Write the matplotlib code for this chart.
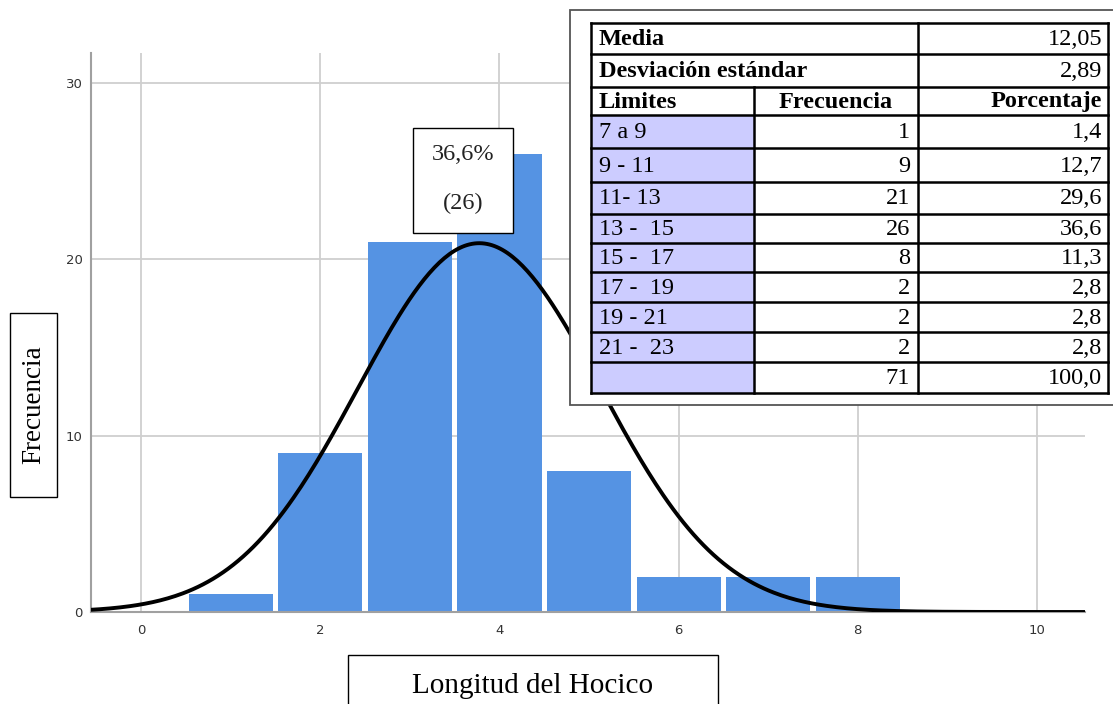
import numpy as np
import matplotlib
matplotlib.use("Agg")
import matplotlib.pyplot as plt
from matplotlib.patches import Rectangle

# ---- data ----
bins = [1, 2, 3, 4, 5, 6, 7, 8]
counts = [1, 9, 21, 26, 8, 2, 2, 2]
x_ticks = [0, 2, 4, 6, 8, 10]
y_ticks = [0, 10, 20, 30]

limits = ["7 a 9", "9 - 11", "11- 13", "13 -  15", "15 -  17", "17 -  19", "19 - 21", "21 -  23", ""]
freqs = ["1", "9", "21", "26", "8", "2", "2", "2", "71"]
percents = ["1,4", "12,7", "29,6", "36,6", "11,3", "2,8", "2,8", "2,8", "100,0"]
media_txt = "12,05"
sd_txt = "2,89"
annot_pct = "36,6%"
annot_n = "(26)"

W, H = 1113, 704
fig = plt.figure(figsize=(W / 100, H / 100), dpi=100)

def fx(px):
    return px / W

def fy(py):
    return 1 - py / H

# main axes
ax_l, ax_r, ax_t, ax_b = 91, 1085, 53, 612
ax = fig.add_axes([fx(ax_l), fy(ax_b), fx(ax_r - ax_l), (ax_b - ax_t) / H])
ax.set_xlim(-0.559, 10.536)
ax.set_ylim(0, 31.7)
ax.set_axisbelow(True)
ax.grid(True, color="#cfcfcf", linewidth=1.3)
ax.bar(bins, counts, width=0.94, color="#5593e3", edgecolor="none", zorder=2)

# fitted normal curve from the counts
c = np.array(counts, float)
b = np.array(bins, float)
n = c.sum()
mu = (c * b).sum() / n
sd = np.sqrt((c * (b - mu) ** 2).sum() / (n - 1))
xs = np.linspace(-0.6, 10.6, 400)
ys = n * 1.0 / (sd * np.sqrt(2 * np.pi)) * np.exp(-0.5 * ((xs - mu) / sd) ** 2)
ax.plot(xs, ys, color="black", linewidth=2.8, zorder=3, solid_capstyle="butt")

ax.set_xticks(x_ticks)
ax.set_yticks(y_ticks)
ax.tick_params(length=0, labelsize=9.5, labelcolor="#333333")
ax.tick_params(axis="x", pad=9)
ax.tick_params(axis="y", pad=6)
for s in ["top", "right"]:
    ax.spines[s].set_visible(False)
for s in ["left", "bottom"]:
    ax.spines[s].set_color("#a0a0a0")
    ax.spines[s].set_linewidth(1.5)

# overlay in pixel coordinates for boxes and table
ov = fig.add_axes([0, 0, 1, 1], zorder=5)
ov.set_xlim(0, W)
ov.set_ylim(H, 0)
ov.axis("off")
ov.patch.set_alpha(0)

serif = "Liberation Serif"

# annotation box
ov.add_patch(Rectangle((413, 128), 100, 105, facecolor="white", edgecolor="black", linewidth=1.0))
ov.text(463, 154, annot_pct, ha="center", va="center", fontsize=17.5, family=serif, color="#222222")
ov.text(463, 203, annot_n, ha="center", va="center", fontsize=17.5, family=serif, color="#222222")

# y label box
ov.add_patch(Rectangle((10, 313), 47, 184, facecolor="white", edgecolor="black", linewidth=1.0))
ov.text(33.5, 405, "Frecuencia", ha="center", va="center", rotation=90, fontsize=19.5, family=serif)

# x label box
ov.add_patch(Rectangle((348, 655), 370, 60, facecolor="white", edgecolor="black", linewidth=1.0, clip_on=False))
ov.text(533, 686, "Longitud del Hocico", ha="center", va="center", fontsize=21, family=serif)

# table outer frame
ov.add_patch(Rectangle((570, 10), 560, 395, facecolor="white", edgecolor="#555555", linewidth=1.3))

cols = [591, 754, 918, 1108]
rows = [23, 54, 87, 115, 148, 182, 214, 243, 272, 302, 332, 362, 393]
lav = "#ccccff"
fs = 17.5

# lavender cells
for i in range(len(limits)):
    y0, y1 = rows[3 + i], rows[4 + i]
    ov.add_patch(Rectangle((cols[0], y0), cols[1] - cols[0], y1 - y0, facecolor=lav, edgecolor="none"))

lw = 1.8
for r in rows:
    ov.plot([cols[0], cols[3]], [r, r], color="black", linewidth=lw)
ov.plot([cols[0], cols[0]], [rows[0], rows[-1]], color="black", linewidth=lw)
ov.plot([cols[3], cols[3]], [rows[0], rows[-1]], color="black", linewidth=lw)
ov.plot([cols[2], cols[2]], [rows[0], rows[-1]], color="black", linewidth=lw)
ov.plot([cols[1], cols[1]], [rows[2], rows[-1]], color="black", linewidth=lw)

def mid(i):
    return (rows[i] + rows[i + 1]) / 2 + 1

padl, padr = 8, 6
ov.text(cols[0] + padl, mid(0), "Media", ha="left", va="center", fontsize=fs, family=serif, weight="bold")
ov.text(cols[3] - padr, mid(0), media_txt, ha="right", va="center", fontsize=fs, family=serif)
ov.text(cols[0] + padl, mid(1), "Desviación estándar", ha="left", va="center", fontsize=fs, family=serif, weight="bold")
ov.text(cols[3] - padr, mid(1), sd_txt, ha="right", va="center", fontsize=fs, family=serif)
ov.text(cols[0] + padl, mid(2), "Limites", ha="left", va="center", fontsize=fs, family=serif, weight="bold")
ov.text((cols[1] + cols[2]) / 2, mid(2), "Frecuencia", ha="center", va="center", fontsize=fs, family=serif, weight="bold")
ov.text(cols[3] - padr, mid(2), "Porcentaje", ha="right", va="center", fontsize=fs, family=serif, weight="bold")
for i in range(len(limits)):
    ov.text(cols[0] + padl, mid(3 + i), limits[i], ha="left", va="center", fontsize=fs, family=serif)
    ov.text(cols[2] - padr - 2, mid(3 + i), freqs[i], ha="right", va="center", fontsize=fs, family=serif)
    ov.text(cols[3] - padr, mid(3 + i), percents[i], ha="right", va="center", fontsize=fs, family=serif)

fig.savefig("out.png", dpi=100)
